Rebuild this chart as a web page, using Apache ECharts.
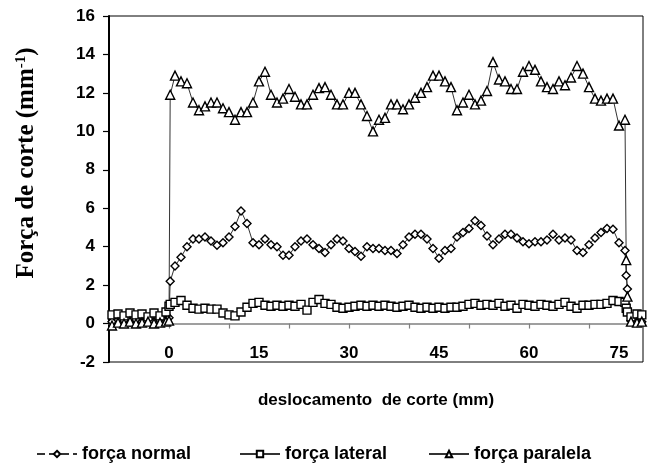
<!DOCTYPE html>
<html>
<head>
<meta charset="utf-8">
<script src="https://cdn.jsdelivr.net/npm/echarts@6/dist/echarts.min.js"></script>
<style>html,body{margin:0;padding:0;background:#fff}#c{width:653px;height:463px}</style>
</head>
<body>
<div id="c"></div>
<script>
// cutting displacement (mm)
const distance = [-9.5,-8.5,-7.5,-6.5,-5.5,-4.5,-3.5,-2.5,-1.5,-0.5,0,0.2,
  1,2,3,4,5,6,7,8,9,10,11,12,13,14,15,16,17,18,19,20,21,22,23,24,25,26,27,28,29,30,
  31,32,33,34,35,36,37,38,39,40,41,42,43,44,45,46,47,48,49,50,51,52,53,54,55,56,57,58,59,60,
  61,62,63,64,65,66,67,68,69,70,71,72,73,74,75,76,76.2,76.4,77,78,78.8];

const forcaNormal = [0.1,0.2,0.15,0.05,0.2,0.1,0.25,0.1,0.15,0.2,0.3,2.2,
  3.0,3.45,4.0,4.4,4.4,4.5,4.3,4.07,4.2,4.5,
  5.05,5.85,5.2,4.2,4.1,4.4,4.1,4.0,3.55,3.55,
  4.0,4.3,4.4,4.1,3.9,3.7,4.1,4.4,4.3,3.9,
  3.75,3.5,4.0,3.9,3.9,3.8,3.8,3.65,4.1,4.5,
  4.65,4.65,4.4,3.9,3.4,3.8,3.9,4.5,4.74,4.95,
  5.35,5.1,4.55,4.1,4.4,4.65,4.65,4.45,4.25,4.15,
  4.26,4.26,4.35,4.65,4.35,4.45,4.35,3.8,3.7,4.1,
  4.45,4.74,4.95,4.91,4.2,3.8,2.5,1.8,0.15,0.05,0.1];

const forcaLateral = [0.45,0.5,0.4,0.55,0.45,0.5,0.35,0.55,0.4,0.6,0.9,1.0,
  1.1,1.2,0.95,0.8,0.75,0.8,0.75,0.75,0.55,0.45,
  0.4,0.6,0.85,1.05,1.1,0.95,0.9,0.95,0.9,0.95,
  0.9,1.0,0.7,1.1,1.25,1.05,1.0,0.85,0.8,0.85,
  0.9,0.95,0.9,0.95,0.9,0.95,0.9,0.85,0.9,0.95,
  0.85,0.8,0.85,0.8,0.85,0.8,0.85,0.85,0.9,1.0,
  1.05,0.95,1.0,0.95,1.05,0.9,0.95,0.8,1.0,0.95,
  0.9,1.0,0.95,0.9,1.0,1.1,0.9,0.8,0.95,0.95,
  1.0,1.0,1.05,1.2,1.15,1.1,0.8,0.6,0.35,0.5,0.45];

const forcaParalela = [-0.1,0.05,0.0,0.1,0.0,0.05,0.1,0.0,0.05,0.1,0.15,11.9,
  12.9,12.6,12.5,11.5,11.1,11.3,11.5,11.5,11.2,11.0,
  10.6,11.0,11.0,11.5,12.6,13.1,11.9,11.5,11.7,12.2,
  11.8,11.4,11.4,11.9,12.25,12.3,11.9,11.4,11.4,12.0,
  12.0,11.4,10.8,10.0,10.6,10.7,11.4,11.4,11.15,11.4,
  11.75,12.0,12.3,12.9,12.9,12.6,12.3,11.1,11.5,11.9,
  11.4,11.6,12.1,13.6,12.7,12.6,12.2,12.2,13.1,13.4,
  13.2,12.6,12.3,12.2,12.6,12.4,12.8,13.4,13.0,12.3,
  11.7,11.6,11.7,11.7,10.3,10.6,3.3,1.4,0.1,0.05,0.1];

const xTickValues = [0,10,20,30,40,50,60,70];
const xLabelValues = [0,15,30,45,60,75];
const seriesNames = ['força normal','força lateral','força paralela'];

const sans = 'Liberation Sans';
const serif = 'Liberation Serif';

function pairs(vals){ return distance.map((d,i)=>[d, vals[i]]); }

function mkSeries(name, vals, symbol, size){
  return {
    type:'line', name: name, data: pairs(vals),
    symbol: symbol, symbolSize: size, showSymbol:true, showAllSymbol:true,
    itemStyle:{color:'#fff', borderColor:'#000', borderWidth:1.4},
    lineStyle:{color:'#333', width:1},
    emphasis:{disabled:true}, animation:false
  };
}

const legendBase = {
  orient:'horizontal', top:440, itemWidth:40, itemHeight:8, itemGap:10,
  textStyle:{fontFamily:sans, fontWeight:'bold', fontSize:18, color:'#000'}
};

const chart = echarts.init(document.getElementById('c'), null, {renderer:'canvas'});
chart.setOption({
  backgroundColor:'#fff',
  animation:false,
  grid:{left:109, right:10, top:16, bottom:101, show:true, borderColor:'#000', borderWidth:1, backgroundColor:'transparent'},
  legend:[
    Object.assign({}, legendBase, {left:31, data:[{name:seriesNames[0], lineStyle:{type:'dashed'}}]}),
    Object.assign({}, legendBase, {left:234, data:[seriesNames[1]]}),
    Object.assign({}, legendBase, {left:423, data:[seriesNames[2]]})
  ],
  xAxis:{
    type:'value', min:-10, max:79, interval:10,
    name:'deslocamento  de corte (mm)', nameLocation:'middle', nameGap:30, nameMoveOverlap:false,
    nameTextStyle:{fontFamily:sans, fontWeight:'bold', fontSize:17, color:'#000'},
    axisLine:{show:true, onZero:true, lineStyle:{color:'#808080', width:1.5}},
    axisTick:{show:true, length:5, customValues:xTickValues, lineStyle:{color:'#808080', width:1.2}},
    axisLabel:{customValues:xLabelValues, margin:-17, fontFamily:sans, fontWeight:'bold', fontSize:17, color:'#000'},
    splitLine:{show:false}
  },
  yAxis:{
    type:'value', min:-2, max:16, interval:2,
    name:'Força de corte (mm{s|-1})', nameLocation:'middle', nameGap:70, nameMoveOverlap:false,
    nameTextStyle:{fontFamily:serif, fontWeight:'bold', fontSize:25, color:'#000', padding:[0,0,0,52],
      rich:{s:{fontFamily:serif, fontWeight:'bold', fontSize:15, color:'#000', verticalAlign:'top'}}},
    axisLine:{show:true, onZero:false, lineStyle:{color:'#000', width:2}},
    axisTick:{show:true, length:6, lineStyle:{color:'#000', width:1.2}},
    axisLabel:{margin:14, fontFamily:sans, fontWeight:'bold', fontSize:17, color:'#000'},
    splitLine:{show:false}
  },
  series:[
    mkSeries(seriesNames[0], forcaNormal, 'diamond', 8),
    mkSeries(seriesNames[1], forcaLateral, 'rect', 8),
    mkSeries(seriesNames[2], forcaParalela, 'triangle', 9)
  ]
});
</script>
</body>
</html>
